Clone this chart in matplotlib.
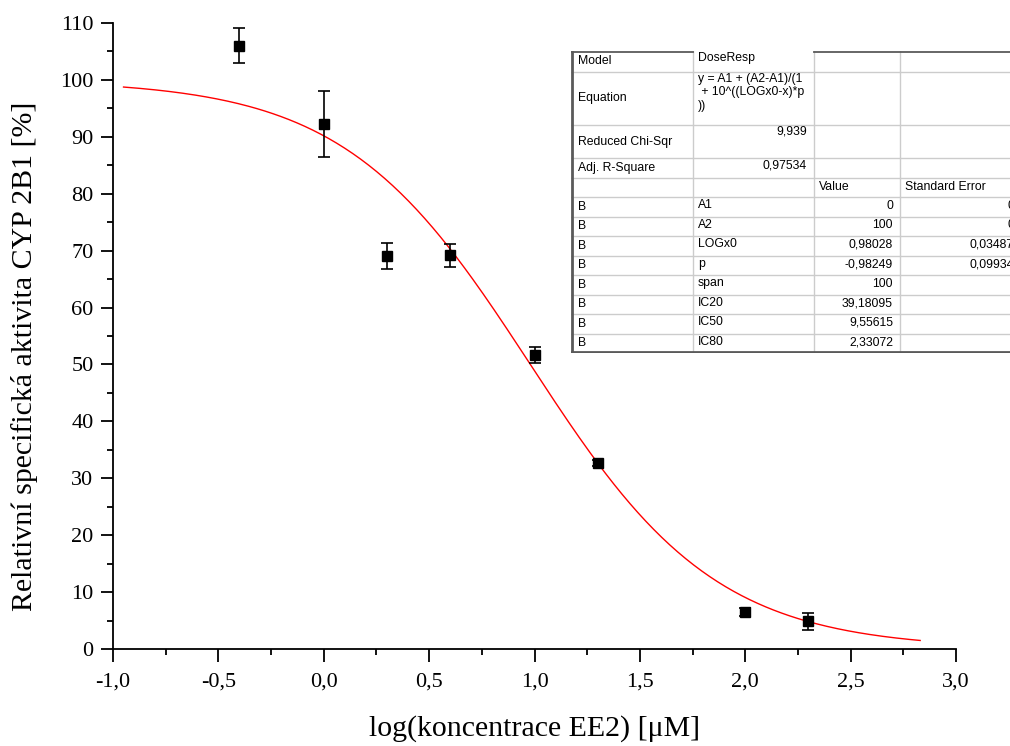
import numpy as np
import matplotlib
matplotlib.use("Agg")
import matplotlib.pyplot as plt
from matplotlib.ticker import MultipleLocator, FuncFormatter

# =============================================================================
# 1. Data
# =============================================================================
log_conc = [-0.4, 0.0, 0.3, 0.6, 1.0, 1.3, 2.0, 2.3]
activity = [106.0, 92.3, 69.1, 69.2, 51.6, 32.7, 6.5, 4.9]
activity_err = [3.1, 5.8, 2.3, 2.0, 1.4, 0.5, 0.7, 1.5]

# DoseResp fit parameters (from the Origin table)
A1 = 0.0
A2 = 100.0
LOGX0 = 0.98028
P = -0.98249
fit_range = (-0.95, 2.83)

table_rows = [
    ["Model", "DoseResp", "", ""],
    ["Equation", "y = A1 + (A2-A1)/(1\n + 10^((LOGx0-x)*p\n))", "", ""],
    ["Reduced Chi-Sqr", "9,939", "", ""],
    ["Adj. R-Square", "0,97534", "", ""],
    ["", "", "Value", "Standard Error"],
    ["B", "A1", "0", "0"],
    ["B", "A2", "100", "0"],
    ["B", "LOGx0", "0,98028", "0,03487"],
    ["B", "p", "-0,98249", "0,09934"],
    ["B", "span", "100", ""],
    ["B", "IC20", "39,18095", ""],
    ["B", "IC50", "9,55615", ""],
    ["B", "IC80", "2,33072", ""],
]

# =============================================================================
# 2. Figure
# =============================================================================
plt.rcParams['font.family'] = ['Liberation Serif', 'DejaVu Serif']
fig = plt.figure(figsize=(10.10, 7.46), dpi=100)
W, H = 1010, 746
ax = fig.add_axes([113 / W, 1 - 649 / H, (956 - 113) / W, (649 - 23) / H])

xfit = np.linspace(fit_range[0], fit_range[1], 300)
yfit = A1 + (A2 - A1) / (1 + 10 ** ((LOGX0 - xfit) * P))
ax.plot(xfit, yfit, color='red', lw=1.0, zorder=2)

ax.errorbar(log_conc, activity, yerr=activity_err, fmt='s', color='black',
            markersize=6.5, ecolor='black', elinewidth=1.2, capsize=4.5,
            capthick=1.2, zorder=3)

ax.set_xlim(-1, 3)
ax.set_ylim(0, 110)
ax.spines['top'].set_visible(False)
ax.spines['right'].set_visible(False)
ax.spines['left'].set_linewidth(1.3)
ax.spines['bottom'].set_linewidth(1.3)

ax.xaxis.set_major_locator(MultipleLocator(0.5))
ax.xaxis.set_minor_locator(MultipleLocator(0.25))
ax.yaxis.set_major_locator(MultipleLocator(10))
ax.yaxis.set_minor_locator(MultipleLocator(5))
ax.xaxis.set_major_formatter(FuncFormatter(lambda v, pos: f"{v:.1f}".replace(".", ",")))
ax.tick_params(which='major', direction='out', length=9, width=1.3, labelsize=16)
ax.tick_params(which='minor', direction='out', length=4.5, width=1.3)
ax.tick_params(axis='x', which='major', pad=8)
ax.tick_params(axis='y', which='major', pad=5)

ax.set_xlabel("log(koncentrace EE2) [μM]", fontsize=21.5, labelpad=17)
ax.set_ylabel("Relativní specifická aktivita CYP 2B1 [%]", fontsize=21.5)
ax.yaxis.set_label_coords(-0.089, 0.468)

# =============================================================================
# 3. Fit results table (clipped at the right edge like the original)
# =============================================================================
tx0, ty0, ty1 = 571, 51, 353
tab = fig.add_axes([tx0 / W, 1 - ty1 / H, (W - tx0) / W, (ty1 - ty0) / H])
tab.set_xlim(tx0, W)
tab.set_ylim(ty1, ty0)
tab.axis('off')

col_edges = [571, 693, 814, 900, 1030]
row_edges = [51, 72, 125, 158, 178, 197]
for i in range(8):
    row_edges.append(197 + (i + 1) * 19.5)

grid_col = '#cccccc'
border_col = '#5a5a5a'
tfont = dict(fontsize=8.8, family='Liberation Sans', clip_on=True)
for x in col_edges[1:-1]:
    tab.plot([x, x], [ty0, ty1], color=grid_col, lw=1.0, clip_on=True)
for y in row_edges[1:-1]:
    tab.plot([tx0, W], [y, y], color=grid_col, lw=1.0, clip_on=True)
# top border only over the first column and the two value columns
tab.plot([tx0, col_edges[1]], [ty0 + 0.7, ty0 + 0.7], color=border_col, lw=1.3)
tab.plot([col_edges[2], W], [ty0 + 0.7, ty0 + 0.7], color=border_col, lw=1.3)
tab.plot([tx0 + 1, tx0 + 1], [ty0, ty1], color=border_col, lw=2.0)
tab.plot([tx0, W], [ty1 - 1, ty1 - 1], color=border_col, lw=2.0)

for r, row in enumerate(table_rows):
    top, bot = row_edges[r], row_edges[r + 1]
    mid = (top + bot) / 2
    for c, txt in enumerate(row):
        if not txt:
            continue
        if c == 0:
            tab.text(col_edges[0] + 7, mid, txt, ha='left', va='center', **tfont)
        elif c == 1 and r < 5:
            if r in (2, 3):
                tab.text(col_edges[2] - 7, top + 1, txt, ha='right', va='top', **tfont)
            else:
                tab.text(col_edges[1] + 5, top + 1, txt, ha='left', va='top',
                         linespacing=1.15, **tfont)
        elif c == 1:
            tab.text(col_edges[1] + 5, mid - 1.5, txt, ha='left', va='center', **tfont)
        elif r == 4:
            tab.text(col_edges[c] + 5, mid, txt, ha='left', va='center', **tfont)
        else:
            right = 893 if c == 2 else 1014
            tab.text(right, mid - 1, txt, ha='right', va='center', **tfont)

fig.savefig("out.png", dpi=100)
